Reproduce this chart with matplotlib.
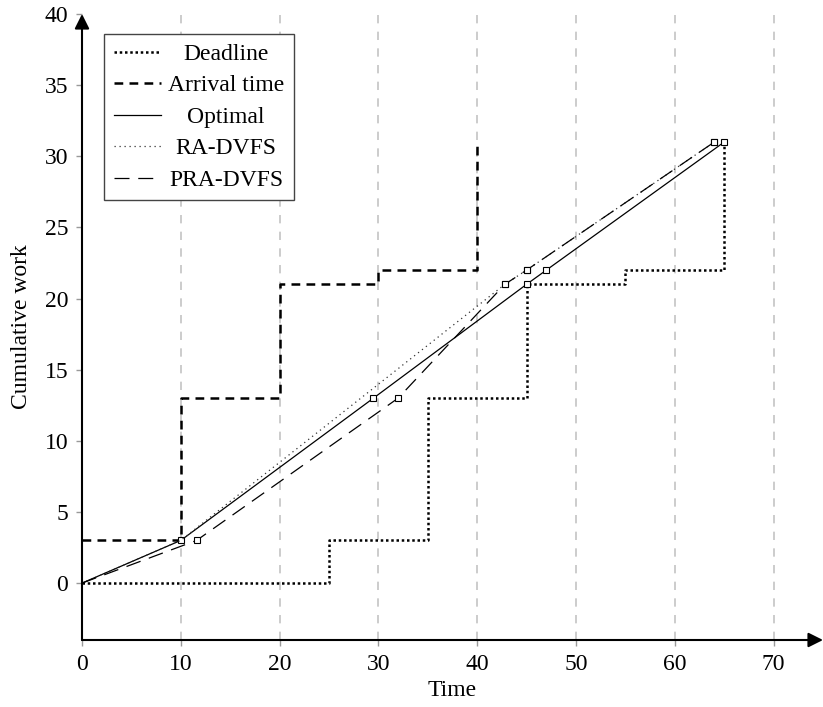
import matplotlib.pyplot as plt
from matplotlib.transforms import IdentityTransform

plt.rcParams['font.family'] = ['Liberation Serif', 'DejaVu Serif']
plt.rcParams['font.size'] = 17

# Data
dl_t = [0, 25, 35, 45, 55, 65]
dl_w = [0, 3, 13, 21, 22, 31]
arr_t = [0, 10, 20, 30, 40]
arr_w = [3, 13, 21, 22, 31]
opt_t = [0, 10, 29.5, 45, 47, 65]
opt_w = [0, 3, 13, 21, 22, 31]
ra_t = [0, 10, 42.8, 45, 64]
ra_w = [0, 3, 21, 22, 31]
pra_t = [0, 11.6, 32, 42.8, 45, 64]
pra_w = [0, 3, 13, 21, 22, 31]
labels = ['Deadline', 'Arrival time', 'Optimal', 'RA-DVFS', 'PRA-DVFS']

fig = plt.figure(figsize=(8.23, 7.07), dpi=100)
ax = fig.add_axes([82 / 823, 67 / 707, 741 / 823, 626 / 707])

for xg in range(10, 80, 10):
    ax.axvline(xg, color='#c4c4c4', lw=1.2, linestyle=(0, (5, 5)), zorder=0)

mk = dict(marker='s', markersize=5, markerfacecolor='white',
          markeredgecolor='black', markeredgewidth=0.8)

h1, = ax.plot(dl_t, dl_w, drawstyle='steps-post', color='black', lw=1.8,
              linestyle=(0, (1, 1.1)))
h2, = ax.plot(arr_t, arr_w, drawstyle='steps-post', color='black', lw=1.8,
              linestyle=(0, (3.5, 2.5)))
h3, = ax.plot(opt_t, opt_w, color='black', lw=0.9,
              markevery=[1, 2, 3, 4, 5], **mk)
h4, = ax.plot(ra_t, ra_w, color='#333333', lw=0.9, linestyle=(0, (1, 3)),
              markevery=[2, 3, 4], **mk)
h5, = ax.plot(pra_t, pra_w, color='black', lw=0.9, linestyle=(0, (12, 7)),
              markevery=[1, 2, 3, 4, 5], **mk)

ax.set_xlim(0, 75)
ax.set_ylim(-4, 40)
ax.set_xticks(range(0, 80, 10))
ax.set_yticks(range(0, 45, 5))
ax.tick_params(direction='out', length=4, color='#999999', width=1, pad=6)
ax.set_xlabel('Time', labelpad=4)
ax.set_ylabel('Cumulative work', labelpad=9)

for s in ['top', 'right', 'left', 'bottom']:
    ax.spines[s].set_visible(False)
arrow = dict(arrowstyle='-|>', lw=1.5, color='black', mutation_scale=22,
             shrinkA=0, shrinkB=0)
ax.annotate('', xy=(0, 1), xytext=(0, 0), xycoords='axes fraction',
            arrowprops=arrow)
ax.annotate('', xy=(1, 0), xytext=(0, 0), xycoords='axes fraction',
            arrowprops=arrow)

# legend with centred labels: lay out with the widest label, then draw real text
widest = max(labels, key=len)
leg = ax.legend([h1, h2, h3, h4, h5], [widest] * 5, loc='upper left',
                bbox_to_anchor=(0.03, 0.968), borderaxespad=0, fancybox=False,
                edgecolor='#444444', handlelength=2.0, handletextpad=0.3,
                labelspacing=0.42, framealpha=1)
leg.get_frame().set_linewidth(1.0)
for line in leg.get_lines():
    line.set_marker('')

fig.canvas.draw()
for t, lab in zip(leg.get_texts(), labels):
    bb = t.get_window_extent()
    y = t.get_transform().transform(t.get_position())[1]
    t.set_visible(False)
    fig.text((bb.x0 + bb.x1) / 2, y, lab, transform=IdentityTransform(),
             ha='center', va='baseline', zorder=10)

fig.savefig('out.png', dpi=100)
